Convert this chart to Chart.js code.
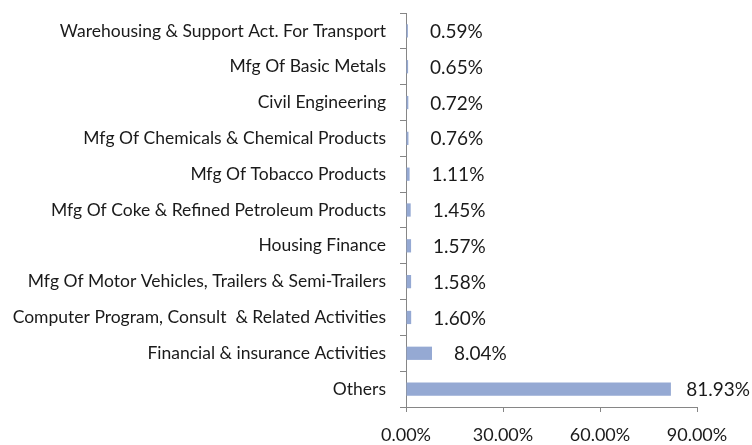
<!DOCTYPE html>
<html>
<head>
<meta charset="utf-8">
<script src="https://cdn.jsdelivr.net/npm/chart.js@4"></script>
<style>
  html, body { margin: 0; padding: 0; background: #fff; }
  #wrap { width: 752px; height: 445px; }
</style>
</head>
<body>
<div id="wrap"><canvas id="sectorchart" width="752" height="445"></canvas></div>
<script>
// sector share (%)
const sectors = ["Warehousing & Support Act. For Transport", "Mfg Of Basic Metals",
    "Civil Engineering", "Mfg Of Chemicals & Chemical Products",
    "Mfg Of Tobacco Products", "Mfg Of Coke & Refined Petroleum Products",
    "Housing Finance", "Mfg Of Motor Vehicles, Trailers & Semi-Trailers",
    "Computer Program, Consult  & Related Activities",
    "Financial & insurance Activities", "Others"];
const share = [0.59, 0.65, 0.72, 0.76, 1.11, 1.45, 1.57, 1.58, 1.60, 8.04, 81.93];
const xTicks = [0, 30, 60, 90];

const axisGrey = "#868686";
const textCol = "#1a1a1a";
const fontFam = "Lato, 'Open Sans', sans-serif";

// draws the value next to the end of every bar
const valueLabels = {
    id: "valueLabels",
    afterDatasetsDraw(chart) {
        const ctx = chart.ctx;
        const meta = chart.getDatasetMeta(0);
        ctx.save();
        ctx.font = "19px " + fontFam;
        ctx.fillStyle = textCol;
        ctx.textAlign = "left";
        ctx.textBaseline = "middle";
        meta.data.forEach((bar, i) => {
            const txt = share[i].toFixed(2) + "%";
            const w = ctx.measureText(txt).width;
            let x = bar.x + 22;
            if (x + w > chart.width - 2) x = chart.width - 2 - w;
            ctx.fillText(txt, x, bar.y + 1);
        });
        ctx.restore();
    }
};

new Chart("sectorchart", {
    type: "bar",
    data: {
        labels: sectors,
        datasets: [
            {
                data: share,
                backgroundColor: "#95a9d3",
                borderWidth: 0,
                barPercentage: 0.37,
                categoryPercentage: 1
            }
        ]
    },
    options: {
        indexAxis: "y",
        responsive: false,
        animation: false,
        layout: { padding: { top: 13, right: 55, left: 0, bottom: 0 } },
        plugins: {
            legend: { display: false },
            tooltip: { enabled: false }
        },
        scales: {
            x: {
                min: 0,
                max: 90,
                afterBuildTicks(scale) {
                    scale.ticks = xTicks.map(v => ({ value: v }));
                },
                afterFit(scale) { scale.height = 38; },
                border: { color: axisGrey, width: 1 },
                grid: { drawOnChartArea: false, tickLength: 5, color: axisGrey },
                ticks: {
                    color: textCol,
                    padding: 12,
                    maxRotation: 0,
                    font: { family: fontFam, size: 18 },
                    callback: v => Number(v).toFixed(2) + "%"
                }
            },
            y: {
                afterFit(scale) {
                    scale.width = 406;
                    scale.paddingTop = 0;
                    scale.paddingBottom = 0;
                },
                border: { color: axisGrey, width: 1 },
                grid: { drawOnChartArea: false, tickLength: 6, color: axisGrey, offset: true },
                ticks: {
                    color: textCol,
                    padding: 14,
                    font: { family: fontFam, size: 17.5 }
                }
            }
        }
    },
    plugins: [valueLabels]
});
</script>
</body>
</html>
